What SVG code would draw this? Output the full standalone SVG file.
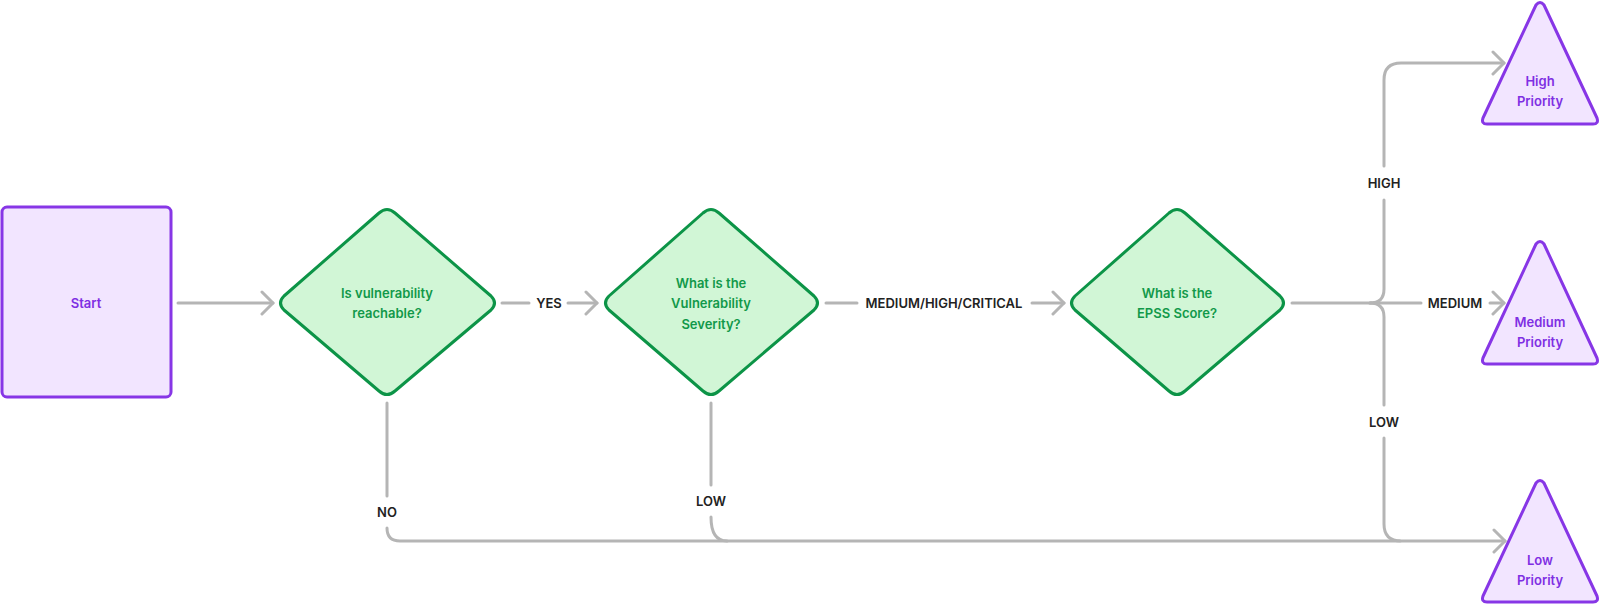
<svg xmlns="http://www.w3.org/2000/svg" width="1600" height="605" viewBox="0 0 1600 605">
<style>
.purple{fill:#f2e5ff;stroke:#8736e6;stroke-width:3;stroke-linejoin:round}
.green{fill:#d1f6d6;stroke:#0c9447;stroke-width:3;stroke-linejoin:round}
.pt{font-family:Inter,"Liberation Sans",sans-serif;font-size:13px;font-weight:600;fill:#7f2fe3;text-anchor:middle;dominant-baseline:central}
.gt{font-family:Inter,"Liberation Sans",sans-serif;font-size:13px;font-weight:600;fill:#11994a;text-anchor:middle;dominant-baseline:central}
.lb{font-family:Inter,"Liberation Sans",sans-serif;font-size:13px;font-weight:600;fill:#222;text-anchor:middle;dominant-baseline:central}
.c{fill:none;stroke:#b5b5b5;stroke-width:3;stroke-linecap:round;stroke-linejoin:round}
</style>
<defs>
<marker id="arr" markerUnits="userSpaceOnUse" viewBox="-14 -13 16 26" refX="0" refY="0" markerWidth="16" markerHeight="26" orient="auto">
<path d="M-11,-11 L0,0 L-11,11" fill="none" stroke="#b5b5b5" stroke-width="3" stroke-linecap="round" stroke-linejoin="round"/>
</marker>
</defs>
<g id="connectors">
<path class="c" d="M178,303 L273,303" marker-end="url(#arr)"/>
<path class="c" d="M502,303 L529,303"/>
<path class="c" d="M568,303 L597,303" marker-end="url(#arr)"/>
<path class="c" d="M826,303 L857,303"/>
<path class="c" d="M1032,303 L1064,303" marker-end="url(#arr)"/>
<path class="c" d="M1292,303 L1421,303"/>
<path class="c" d="M1370,303 Q1384,303 1384,289 L1384,200"/>
<path class="c" d="M1384,166 L1384,80 Q1384,63 1401,63 L1504,63" marker-end="url(#arr)"/>
<path class="c" d="M1490,303 L1504,303" marker-end="url(#arr)"/>
<path class="c" d="M1370,303 Q1384,303 1384,317 L1384,405"/>
<path class="c" d="M1384,438 L1384,524 Q1384,541 1401,541 L1505,541" marker-end="url(#arr)"/>
<path class="c" d="M387,403 L387,496"/>
<path class="c" d="M387,528 Q387,541 400,541 L1400,541"/>
<path class="c" d="M711,403 L711,485"/>
<path class="c" d="M711,517 Q711,541 727,541"/>
</g>
<g id="labels">
<text class="lb" x="549" y="303">YES</text>
<text class="lb" x="944" y="303">MEDIUM/HIGH/CRITICAL</text>
<text class="lb" x="1455" y="303">MEDIUM</text>
<text class="lb" x="1384" y="183">HIGH</text>
<text class="lb" x="1384" y="422">LOW</text>
<text class="lb" x="387" y="512">NO</text>
<text class="lb" x="711" y="501">LOW</text>
</g>
<g id="start">
<rect class="purple" x="2" y="207" width="169" height="190" rx="5"/>
<text class="pt" x="86" y="303">Start</text>
</g>
<g id="reachable">
<path class="green" d="M379,213 Q387,206 395,213 L491,296 Q498,303 491,310 L395,391 Q387,398 379,391 L284,310 Q277,303 284,296 Z"/>
<text class="gt" x="387" y="293">Is vulnerability</text>
<text class="gt" x="387" y="313">reachable?</text>
</g>
<g id="severity">
<path class="green" d="M703,213 Q711,206 719,213 L814,296 Q821,303 814,310 L719,391 Q711,398 703,391 L609,310 Q602,303 609,296 Z"/>
<text class="gt" x="711" y="283">What is the</text>
<text class="gt" x="711" y="303">Vulnerability</text>
<text class="gt" x="711" y="324">Severity?</text>
</g>
<g id="epss">
<path class="green" d="M1169,213 Q1177,206 1185,213 L1280,296 Q1287,303 1280,310 L1185,391 Q1177,398 1169,391 L1075,310 Q1068,303 1075,296 Z"/>
<text class="gt" x="1177" y="293">What is the</text>
<text class="gt" x="1177" y="313">EPSS Score?</text>
</g>
<g id="high">
<path class="purple" d="M1536,5 Q1540,0 1544,5 L1597,118 Q1599,124 1593,124 L1487,124 Q1481,124 1483,118 Z"/>
<text class="pt" x="1540" y="81">High</text>
<text class="pt" x="1540" y="101">Priority</text>
</g>
<g id="medium">
<path class="purple" d="M1536,244 Q1540,239 1544,244 L1597,358 Q1599,364 1593,364 L1487,364 Q1481,364 1483,358 Z"/>
<text class="pt" x="1540" y="322">Medium</text>
<text class="pt" x="1540" y="342">Priority</text>
</g>
<g id="low">
<path class="purple" d="M1536,483 Q1540,478 1544,483 L1597,596 Q1599,602 1593,602 L1487,602 Q1481,602 1483,596 Z"/>
<text class="pt" x="1540" y="560">Low</text>
<text class="pt" x="1540" y="580">Priority</text>
</g>
</svg>
